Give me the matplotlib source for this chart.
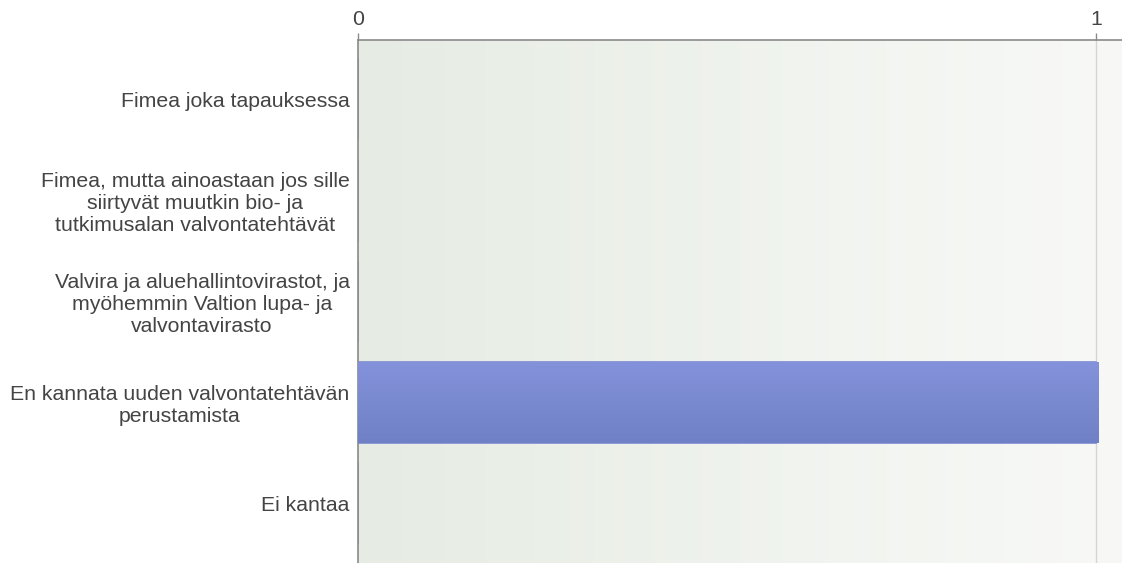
import matplotlib
matplotlib.use("Agg")
import matplotlib.pyplot as plt
import numpy as np
from matplotlib.colors import LinearSegmentedColormap

categories = [
    "Fimea joka tapauksessa",
    "Fimea, mutta ainoastaan jos sille\nsiirtyvät muutkin bio- ja\ntutkimusalan valvontatehtävät",
    "Valvira ja aluehallintovirastot, ja\nmyöhemmin Valtion lupa- ja\nvalvontavirasto",
    "En kannata uuden valvontatehtävän\nperustamista",
    "Ei kantaa",
]
values = [0, 0, 0, 1, 0]
x_ticks = [0, 1]
x_tick_labels = ["0", "1"]

W, H, DPI = 1122, 563, 100
fig = plt.figure(figsize=(W / DPI, H / DPI), dpi=DPI)
fig.patch.set_facecolor("white")

left, right, top, bottom = 358, 1122, 40, 563
ax = fig.add_axes([left / W, 1 - bottom / H, (right - left) / W, (bottom - top) / H])

xmax = 1 + (right - 1096) / (1096 - left)
ylim = (4.59, -0.585)

# background gradient
bg = LinearSegmentedColormap.from_list("bg", ["#e6ece3", "#f8f9f7"])
grad = np.linspace(0, 1, 256).reshape(1, -1)
ax.imshow(grad, cmap=bg, aspect="auto", extent=[0, xmax, ylim[0], ylim[1]],
          zorder=0, interpolation="bicubic")

# gridline at 1
for t in x_ticks[1:]:
    ax.axvline(t, color="#d4d6d4", lw=1.0, zorder=1)

ypos = np.arange(len(categories))
bars = ax.barh(ypos, values, height=0.8, color="#7b8ad2", edgecolor="#7b8ad2",
               linewidth=1.2, zorder=2)

# vertical gradient on bars
barcmap = LinearSegmentedColormap.from_list("bar", ["#8392da", "#7080c6"])
vgrad = np.linspace(0, 1, 256).reshape(-1, 1)
for b, v in zip(bars, values):
    if v > 0:
        x0, y0 = b.get_x(), b.get_y()
        w, h = b.get_width(), b.get_height()
        ax.imshow(vgrad, cmap=barcmap, aspect="auto",
                  extent=[x0, x0 + w * 1.004, y0 + h, y0], zorder=3,
                  interpolation="bicubic")

ax.set_xlim(0, xmax)
ax.set_ylim(*ylim)

ax.xaxis.tick_top()
ax.set_xticks(x_ticks)
ax.set_xticklabels(x_tick_labels)
ax.tick_params(axis="x", direction="out", length=5, width=1, color="#8a8a8a",
               labelsize=15.3, labelcolor="#444444", pad=3)
for lbl in ax.get_xticklabels():
    lbl.set_fontfamily("Liberation Sans")

ax.set_yticks(ypos)
ax.set_yticklabels(categories, fontfamily="Liberation Sans", fontsize=15.3,
                   color="#444444", multialignment="center", linespacing=1.2)
ax.tick_params(axis="y", length=0, pad=6)

for s in ["right", "bottom"]:
    ax.spines[s].set_visible(False)
ax.spines["top"].set_color("#8a8a8a")
ax.spines["top"].set_linewidth(1.2)
ax.spines["left"].set_color("#8a8a8a")
ax.spines["left"].set_linewidth(1.2)

fig.savefig("out.png", dpi=DPI)
